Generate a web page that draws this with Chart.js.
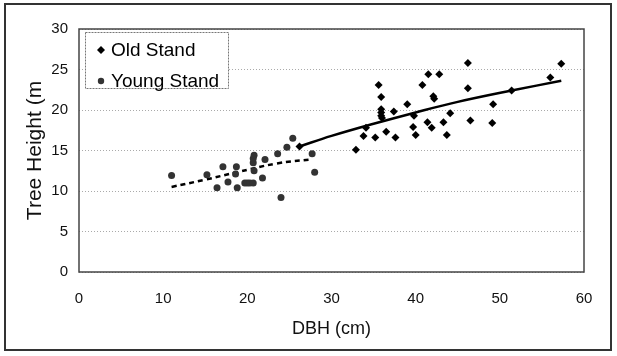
<!DOCTYPE html>
<html lang="en">
<head>
    <meta charset="UTF-8" />
    <title>Tree Height vs DBH</title>
    <script src="https://cdn.jsdelivr.net/npm/chart.js"></script>
    <style>
        html, body { margin: 0; padding: 0; background: #fff; }
        #wrap { width: 617px; height: 356px; }
    </style>
</head>
<body>
    <div id="wrap"><canvas id="treeChart" width="617" height="356"></canvas></div>

    <script>
        // values
        const oldX = [26.2, 32.9, 33.8, 34.1, 35.2, 35.6, 35.9, 35.9, 35.9, 35.9, 36.0, 36.5, 37.4, 37.6, 39.0, 39.7, 39.8, 40.0,
            40.8, 41.5, 41.4, 41.9, 42.1, 42.2, 42.8, 43.3, 43.7, 44.1, 46.2, 46.2, 46.5, 49.1, 49.2, 51.4, 56.0, 57.3];
        const oldY = [15.5, 15.1, 16.8, 17.8, 16.6, 23.1, 21.6, 20.1, 19.7, 19.3, 19.0, 17.3, 19.8, 16.6, 20.7, 17.9, 19.3, 16.9,
            23.1, 24.4, 18.5, 17.8, 21.7, 21.4, 24.4, 18.5, 16.9, 19.6, 25.8, 22.7, 18.7, 18.4, 20.7, 22.4, 24.0, 25.7];

        const youngX = [11.0, 15.2, 16.4, 17.1, 17.7, 18.6, 18.7, 18.8, 19.7, 20.0, 20.3, 20.7, 20.7, 20.7, 20.8, 20.8,
            21.8, 22.1, 23.6, 24.0, 24.7, 25.4, 27.7, 28.0];
        const youngY = [11.9, 12.0, 10.4, 13.0, 11.1, 12.1, 13.0, 10.4, 11.0, 11.0, 11.0, 11.0, 13.5, 14.0, 14.4, 12.5,
            11.6, 13.9, 14.6, 9.2, 15.4, 16.5, 14.6, 12.3];

        // fitted curves as drawn in the figure
        const oldFitX = [26.2, 30, 35, 40, 45, 51.4, 57.3];
        const oldFitY = [15.5, 16.8, 18.3, 19.7, 21.0, 22.4, 23.6];
        const youngFitX = [11.0, 15.0, 18.7, 23.5, 27.6];
        const youngFitY = [10.5, 11.4, 12.3, 13.4, 13.9];

        const xTicks = [0, 10, 20, 30, 40, 50, 60];
        const yTicks = [0, 5, 10, 15, 20, 25, 30];
        const legendNames = ['Old Stand', 'Young Stand'];

        const FONT = 'Liberation Sans, Arial, sans-serif';
        const pairs = (xs, ys) => xs.map((x, i) => ({ x: x, y: ys[i] }));

        // frames + boxed legend inside the plot, like the original figure
        const frames = {
            id: 'frames',
            beforeDraw(chart) {
                const ctx = chart.ctx;
                ctx.save();
                ctx.fillStyle = '#fff';
                ctx.fillRect(0, 0, chart.width, chart.height);
                ctx.restore();
            },
            afterDraw(chart) {
                const ctx = chart.ctx;
                const a = chart.chartArea;
                ctx.save();
                ctx.strokeStyle = '#444';
                ctx.lineWidth = 1.5;
                ctx.strokeRect(a.left, a.top, a.right - a.left, a.bottom - a.top);

                ctx.strokeStyle = '#333';
                ctx.lineWidth = 2;
                ctx.strokeRect(5, 4, chart.width - 11, chart.height - 10);

                // legend
                const lx = a.left + 6, ly = a.top + 3;
                ctx.fillStyle = '#fff';
                ctx.fillRect(lx, ly, 143, 56);
                ctx.strokeStyle = '#777';
                ctx.lineWidth = 1;
                ctx.setLineDash([2, 1]);
                ctx.strokeRect(lx + 0.5, ly + 0.5, 143, 56);
                ctx.setLineDash([]);
                ctx.font = '19px ' + FONT;
                ctx.textBaseline = 'middle';
                legendNames.forEach((name, i) => {
                    const ds = chart.data.datasets[i];
                    const cy = ly + 18 + i * 31;
                    ctx.fillStyle = ds.backgroundColor;
                    ctx.beginPath();
                    if (ds.pointStyle === 'rectRot') {
                        ctx.moveTo(lx + 16, cy - 4);
                        ctx.lineTo(lx + 20, cy);
                        ctx.lineTo(lx + 16, cy + 4);
                        ctx.lineTo(lx + 12, cy);
                    } else {
                        ctx.arc(lx + 16, cy, 3.2, 0, Math.PI * 2);
                    }
                    ctx.closePath();
                    ctx.fill();
                    ctx.fillStyle = '#000';
                    ctx.fillText(name, lx + 26, cy + 1);
                });
                ctx.restore();
            }
        };

        new Chart(document.getElementById('treeChart'), {
            type: 'scatter',
            data: {
                datasets: [
                    {
                        label: legendNames[0],
                        data: pairs(oldX, oldY),
                        pointStyle: 'rectRot',
                        pointRadius: 4,
                        backgroundColor: '#000',
                        borderColor: '#000',
                        borderWidth: 0
                    },
                    {
                        label: legendNames[1],
                        data: pairs(youngX, youngY),
                        pointStyle: 'circle',
                        pointRadius: 3.5,
                        backgroundColor: '#333',
                        borderColor: '#333',
                        borderWidth: 0
                    },
                    {
                        label: 'Old fit',
                        type: 'line',
                        data: pairs(oldFitX, oldFitY),
                        borderColor: '#000',
                        borderWidth: 2.5,
                        pointRadius: 0,
                        tension: 0.4,
                        fill: false
                    },
                    {
                        label: 'Young fit',
                        type: 'line',
                        data: pairs(youngFitX, youngFitY),
                        borderColor: '#000',
                        borderWidth: 2.5,
                        borderDash: [5, 4],
                        pointRadius: 0,
                        tension: 0.4,
                        fill: false
                    }
                ]
            },
            options: {
                responsive: false,
                animation: false,
                layout: { padding: { left: 10, top: 29, right: 33, bottom: 16 } },
                plugins: {
                    tooltip: { enabled: false },
                    legend: { display: false }
                },
                scales: {
                    x: {
                        type: 'linear',
                        min: 0,
                        max: 60,
                        afterBuildTicks: s => { s.ticks = xTicks.map(v => ({ value: v })); },
                        afterFit: s => { s.height = 68; },
                        grid: { display: false, drawTicks: false },
                        border: { display: false },
                        ticks: { padding: 18, color: '#111', font: { family: FONT, size: 15 } },
                        title: {
                            display: true,
                            text: 'DBH (cm)',
                            color: '#111',
                            padding: 0,
                            font: { family: FONT, size: 18 }
                        }
                    },
                    y: {
                        type: 'linear',
                        min: 0,
                        max: 30,
                        afterBuildTicks: s => { s.ticks = yTicks.map(v => ({ value: v })); },
                        afterFit: s => { s.width = 69; },
                        grid: { color: '#aaa', drawTicks: false },
                        border: { display: false, dash: [1, 2] },
                        ticks: { padding: 11, color: '#111', font: { family: FONT, size: 15 } },
                        title: {
                            display: true,
                            text: 'Tree Height (m',
                            color: '#111',
                            padding: { top: 13, bottom: 0 },
                            font: { family: FONT, size: 21 }
                        }
                    }
                }
            },
            plugins: [frames]
        });
    </script>
</body>
</html>
